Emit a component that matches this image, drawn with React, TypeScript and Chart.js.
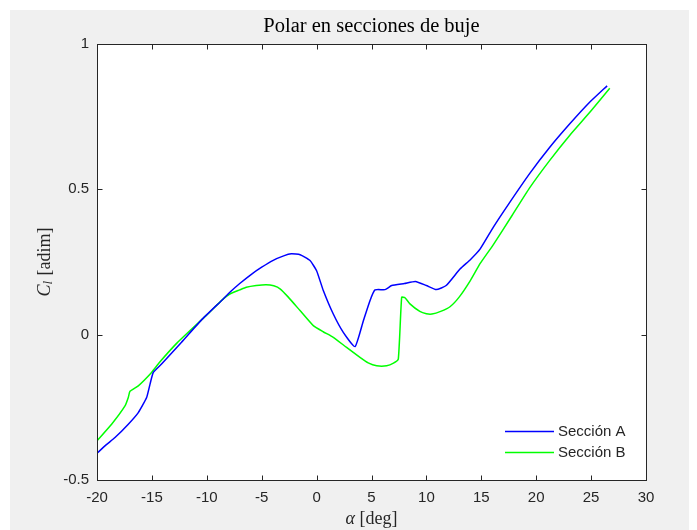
import { useEffect, useRef } from "react";
import { Chart, registerables } from "chart.js";

Chart.register(...registerables);

const alphaA = [-20, -19.2, -18.36, -17.15, -16.24, -15.48, -15.17, -14.87, -14.1, -12.3, -10.5, -8.5, -7.9, -7.0, -6.0, -5.0, -4.0, -3.0, -2.3, -1.5, -0.6, 0.0, 0.61, 1.52, 2.43, 3.5, 4.26, 4.86, 5.32, 6.23, 6.84, 8.0, 9.0, 10.0, 10.9, 11.8, 13.06, 14.0, 14.9, 16.1, 17.5, 19.4, 21.2, 23.1, 24.8, 26.46];
const clA = [-0.408, -0.38, -0.354, -0.308, -0.268, -0.216, -0.17, -0.13, -0.1, -0.026, 0.05, 0.123, 0.146, 0.176, 0.206, 0.232, 0.255, 0.271, 0.278, 0.275, 0.255, 0.22, 0.152, 0.071, 0.008, -0.041, 0.048, 0.117, 0.154, 0.155, 0.169, 0.176, 0.183, 0.169, 0.155, 0.169, 0.226, 0.258, 0.295, 0.37, 0.45, 0.554, 0.643, 0.727, 0.797, 0.856];

const alphaB = [-20, -18.67, -17.45, -17.15, -17.0, -16.24, -15.03, -14.3, -12.75, -11.5, -10, -8.5, -7.9, -7.0, -6.4, -5.5, -4.6, -3.9, -3.3, -2.6, -1.51, -0.3, 0.6, 1.52, 2.73, 3.95, 4.7, 5.47, 6.38, 7.0, 7.44, 7.75, 8.05, 8.5, 9.4, 10.0, 10.5, 11.3, 12.15, 13.0, 14.0, 14.9, 16.1, 17.8, 19.4, 21.2, 23.1, 25.0, 26.7];
const clB = [-0.365, -0.308, -0.245, -0.216, -0.195, -0.176, -0.13, -0.095, -0.03, 0.015, 0.068, 0.123, 0.14, 0.154, 0.163, 0.169, 0.172, 0.168, 0.157, 0.13, 0.083, 0.031, 0.01, -0.009, -0.044, -0.078, -0.097, -0.107, -0.107, -0.098, -0.084, 0.129, 0.127, 0.106, 0.08, 0.072, 0.071, 0.08, 0.096, 0.13, 0.186, 0.245, 0.31, 0.41, 0.505, 0.598, 0.688, 0.77, 0.848];

const xTicks = [-20, -15, -10, -5, 0, 5, 10, 15, 20, 25, 30];
const yTicks = [-0.5, 0, 0.5, 1];
const seriesNames = ["Sección A", "Sección B"];
const seriesColors = ["#0000ff", "#00ff00"];
const titleText = "Polar en secciones de buje";

const W = 687;
const H = 520;
const AXIS_COLOR = "#262626";
const TICK_FONT = { family: "'Liberation Sans', Arial, sans-serif", size: 15 };
const SERIF = "'Liberation Serif', 'Times New Roman', serif";

const decor = {
  id: "decor",
  beforeDraw(chart: any) {
    const { ctx, chartArea: a } = chart;
    ctx.save();
    ctx.fillStyle = "#f0f0f0";
    ctx.fillRect(0, 0, chart.width, chart.height);
    ctx.fillStyle = "#ffffff";
    ctx.fillRect(a.left, a.top, a.right - a.left, a.bottom - a.top);
    ctx.restore();
  },
  afterDraw(chart: any) {
    const { ctx, chartArea: a, scales } = chart;
    const xs = scales.x;
    const ys = scales.y;
    ctx.save();
    ctx.strokeStyle = AXIS_COLOR;
    ctx.lineWidth = 1;
    const L = Math.round(a.left) + 0.5;
    const R = Math.round(a.right) + 0.5;
    const T = Math.round(a.top) + 0.5;
    const B = Math.round(a.bottom) + 0.5;
    ctx.strokeRect(L, T, R - L, B - T);
    const tl = 5;
    ctx.beginPath();
    xTicks.forEach((v) => {
      const px = Math.round(xs.getPixelForValue(v)) + 0.5;
      ctx.moveTo(px, B);
      ctx.lineTo(px, B - tl);
      ctx.moveTo(px, T);
      ctx.lineTo(px, T + tl);
    });
    yTicks.forEach((v) => {
      const py = Math.round(ys.getPixelForValue(v)) + 0.5;
      ctx.moveTo(L, py);
      ctx.lineTo(L + tl, py);
      ctx.moveTo(R, py);
      ctx.lineTo(R - tl, py);
    });
    ctx.stroke();

    // title
    const cx = (a.left + a.right) / 2;
    ctx.fillStyle = "#000000";
    ctx.font = `20.5px ${SERIF}`;
    ctx.textAlign = "center";
    ctx.textBaseline = "middle";
    ctx.fillText(titleText, cx, 17);

    // x label: alpha [deg]
    ctx.fillStyle = AXIS_COLOR;
    const xl1 = "α";
    const xl2 = " [deg]";
    ctx.font = `italic 18px ${SERIF}`;
    const w1 = ctx.measureText(xl1).width;
    ctx.font = `18px ${SERIF}`;
    const w2 = ctx.measureText(xl2).width;
    const sx = cx - (w1 + w2) / 2;
    const ly = 509;
    ctx.textAlign = "left";
    ctx.textBaseline = "middle";
    ctx.font = `italic 18px ${SERIF}`;
    ctx.fillText(xl1, sx, ly);
    ctx.font = `18px ${SERIF}`;
    ctx.fillText(xl2, sx + w1, ly);

    // y label: C_l [adim]
    const cy = (a.top + a.bottom) / 2;
    ctx.save();
    ctx.translate(35, cy);
    ctx.rotate(-Math.PI / 2);
    ctx.font = `italic 18px ${SERIF}`;
    const c1 = ctx.measureText("C").width;
    ctx.font = `italic 13px ${SERIF}`;
    const c2 = ctx.measureText("l").width + 1;
    ctx.font = `18px ${SERIF}`;
    const c3 = ctx.measureText(" [adim]").width;
    const yx = -(c1 + c2 + c3) / 2;
    ctx.textAlign = "left";
    ctx.textBaseline = "middle";
    ctx.font = `italic 18px ${SERIF}`;
    ctx.fillText("C", yx, 0);
    ctx.font = `italic 13px ${SERIF}`;
    ctx.fillText("l", yx + c1, 4);
    ctx.font = `18px ${SERIF}`;
    ctx.fillText(" [adim]", yx + c1 + c2, 0);
    ctx.restore();

    // legend
    ctx.font = `15px ${TICK_FONT.family}`;
    ctx.textAlign = "left";
    ctx.textBaseline = "middle";
    seriesNames.forEach((name, i) => {
      const y = 421 + i * 21 + 0.5;
      ctx.strokeStyle = seriesColors[i];
      ctx.lineWidth = 1.5;
      ctx.beginPath();
      ctx.moveTo(495, y);
      ctx.lineTo(544, y);
      ctx.stroke();
      ctx.fillStyle = AXIS_COLOR;
      ctx.fillText(name, 548, y);
    });
    ctx.restore();
  },
};

export default function App() {
  const ref = useRef<HTMLCanvasElement>(null);
  useEffect(() => {
    if (!ref.current) return;
    const mk = (xs: number[], ys: number[]) => xs.map((x, i) => ({ x, y: ys[i] }));
    const ds = (i: number, xs: number[], ys: number[]) => ({
      label: seriesNames[i],
      data: mk(xs, ys),
      showLine: true,
      borderColor: seriesColors[i],
      backgroundColor: seriesColors[i],
      borderWidth: 1.5,
      pointRadius: 0,
      tension: 0.15,
    });
    const chart = new Chart(ref.current, {
      type: "scatter",
      data: {
        datasets: [ds(0, alphaA, clA), ds(1, alphaB, clB)],
      },
      options: {
        responsive: false,
        animation: false,
        layout: { padding: { left: 0, right: 51, top: 34, bottom: 0 } },
        plugins: {
          legend: { display: false },
          title: { display: false },
          tooltip: { enabled: false },
        },
        scales: {
          x: {
            type: "linear",
            min: -20,
            max: 30,
            afterBuildTicks: (s: any) => {
              s.ticks = xTicks.map((v) => ({ value: v }));
            },
            grid: { display: false, drawTicks: false },
            border: { display: false },
            ticks: {
              font: TICK_FONT,
              color: AXIS_COLOR,
              padding: 9,
              maxRotation: 0,
              autoSkip: false,
              callback: (v: any) => String(v),
            },
            afterFit: (s: any) => {
              s.height = 50;
            },
          },
          y: {
            type: "linear",
            min: -0.5,
            max: 1,
            afterBuildTicks: (s: any) => {
              s.ticks = yTicks.map((v) => ({ value: v }));
            },
            grid: { display: false, drawTicks: false },
            border: { display: false },
            ticks: {
              font: TICK_FONT,
              color: AXIS_COLOR,
              padding: 8,
              autoSkip: false,
              callback: (v: any) => String(v),
            },
            afterFit: (s: any) => {
              s.width = 87;
            },
          },
        },
      } as any,
      plugins: [decor],
    });
    return () => chart.destroy();
  }, []);
  return (
    <canvas
      ref={ref}
      width={W}
      height={H}
      style={{ display: "block", width: W, height: H, marginLeft: 2, marginTop: 2 }}
    />
  );
}
